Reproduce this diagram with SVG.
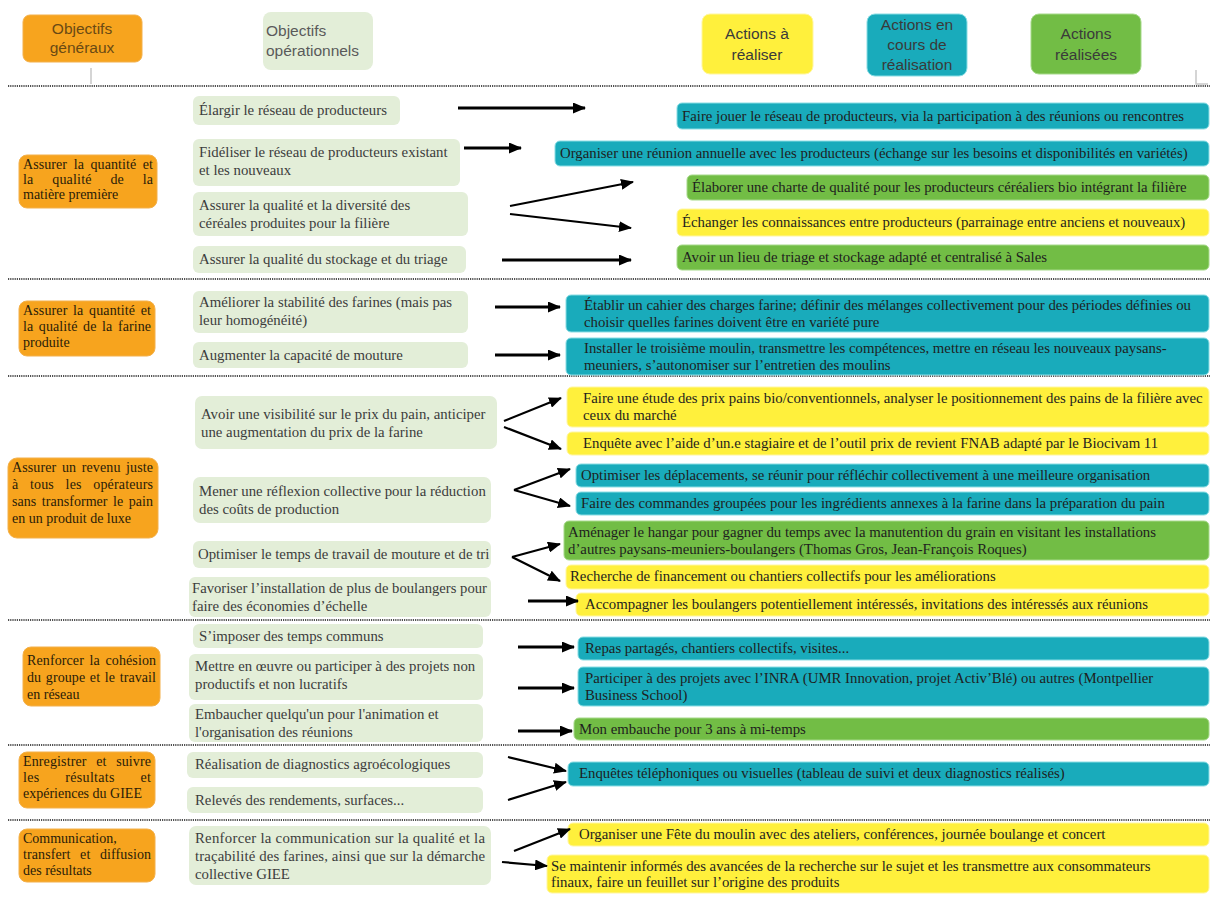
<svg xmlns="http://www.w3.org/2000/svg" width="1212" height="897" viewBox="0 0 1212 897">
<style>
.bg{fill:#ffffff}
.sep{stroke:#505050;stroke-width:1.8;stroke-dasharray:1.2 1;fill:none}
.tick{stroke:#c8c8c8;stroke-width:1.5;fill:none}
.og{fill:#f7a41e;stroke:#f3b04a;stroke-width:1}
.op{fill:#e3eed8}
.ay{fill:#fff03c;stroke:#fff6a0;stroke-width:1}
.at{fill:#19abbb;stroke:#8adde4;stroke-width:1}
.ag{fill:#72bd45;stroke:#a6d98a;stroke-width:1}
.h{font-family:"Liberation Sans",Arial,sans-serif;font-size:15.5px;fill:#3a3a3a}
.ho{fill:#6a4a14}
.hp{fill:#5a5a5a}
.b{font-family:"Liberation Serif","Times New Roman",serif;font-size:14.8px;fill:#1e1e1e}
.p{fill:#3c3c3c}
.o{font-family:"Liberation Serif","Times New Roman",serif;font-size:14px;fill:#2a1c08}
.arr{stroke:#000;stroke-width:3;fill:none;marker-end:url(#ah)}
.ard{stroke:#000;stroke-width:2.2;fill:none;marker-end:url(#ah)}
</style>
<defs>
<marker id="ah" markerUnits="userSpaceOnUse" markerWidth="13" markerHeight="11" refX="12" refY="5.5" orient="auto">
<path d="M0,0 L13,5.5 L0,11 z" fill="#000"/>
</marker>
</defs>
<rect class="bg" x="0" y="0" width="1212" height="897"/>

<g id="header">
<g id="h-og"><rect class="og" x="23" y="15" width="119" height="47" rx="7"/>
<text class="h ho" x="82" y="34" text-anchor="middle">Objectifs</text>
<text class="h ho" x="82" y="53" text-anchor="middle">généraux</text></g>
<g id="h-op"><rect class="op" x="263" y="12" width="110" height="58" rx="8"/>
<text class="h hp" x="266" y="36">Objectifs</text>
<text class="h hp" x="266" y="56">opérationnels</text></g>
<g id="h-ay"><rect class="ay" x="702" y="14" width="111" height="60" rx="8"/>
<text class="h" x="757" y="39" text-anchor="middle">Actions à</text>
<text class="h" x="757" y="60" text-anchor="middle">réaliser</text></g>
<g id="h-at"><rect class="at" x="867" y="14" width="100" height="62" rx="8"/>
<text class="h" x="917" y="30" text-anchor="middle">Actions en</text>
<text class="h" x="917" y="50" text-anchor="middle">cours de</text>
<text class="h" x="917" y="70" text-anchor="middle">réalisation</text></g>
<g id="h-ag"><rect class="ag" x="1031" y="14" width="110" height="60" rx="8"/>
<text class="h" x="1086" y="39" text-anchor="middle">Actions</text>
<text class="h" x="1086" y="60" text-anchor="middle">réalisées</text></g>
<path class="tick" d="M91,68 V84 M1196,70 V84 H1208"/>
</g>

<g id="separators">
<line class="sep" x1="8" y1="86" x2="1210" y2="86"/>
<line class="sep" x1="8" y1="279" x2="1210" y2="279"/>
<line class="sep" x1="8" y1="376" x2="1210" y2="376"/>
<line class="sep" x1="8" y1="620" x2="1210" y2="620"/>
<line class="sep" x1="8" y1="745" x2="1210" y2="745"/>
<line class="sep" x1="8" y1="820" x2="1210" y2="820"/>
</g>

<!-- Objectifs généraux -->
<g id="og1"><rect class="og" x="19" y="155" width="138" height="53" rx="8"/>
<text class="o" x="23" y="169" textLength="130" lengthAdjust="spacing" word-spacing="3">Assurer la quantité et</text>
<text class="o" x="23" y="184" textLength="130" lengthAdjust="spacing" word-spacing="15">la qualité de la</text>
<text class="o" x="23" y="199">matière première</text></g>
<g id="og2"><rect class="og" x="19" y="301" width="136" height="55" rx="8"/>
<text class="o" x="23" y="315" textLength="128" lengthAdjust="spacing" word-spacing="2">Assurer la quantité et</text>
<text class="o" x="23" y="331" textLength="128" lengthAdjust="spacing" word-spacing="2">la qualité de la farine</text>
<text class="o" x="23" y="347">produite</text></g>
<g id="og3"><rect class="og" x="8" y="458" width="150" height="80" rx="9"/>
<text class="o" x="12" y="472" textLength="141" lengthAdjust="spacing" word-spacing="2">Assurer un revenu juste</text>
<text class="o" x="12" y="489" textLength="141" lengthAdjust="spacing" word-spacing="8">à tous les opérateurs</text>
<text class="o" x="12" y="506" textLength="141" lengthAdjust="spacing" word-spacing="2">sans transformer le pain</text>
<text class="o" x="12" y="523">en un produit de luxe</text></g>
<g id="og4"><rect class="og" x="23" y="647" width="137" height="59" rx="8"/>
<text class="o" x="27" y="665" textLength="129" lengthAdjust="spacing" word-spacing="2">Renforcer la cohésion</text>
<text class="o" x="27" y="682" textLength="129" lengthAdjust="spacing" word-spacing="1">du groupe et le travail</text>
<text class="o" x="27" y="699">en réseau</text></g>
<g id="og5"><rect class="og" x="19" y="752" width="136" height="56" rx="8"/>
<text class="o" x="23" y="766" textLength="128" lengthAdjust="spacing" word-spacing="6">Enregistrer et suivre</text>
<text class="o" x="23" y="782" textLength="128" lengthAdjust="spacing" word-spacing="22">les résultats et</text>
<text class="o" x="23" y="798">expériences du GIEE</text></g>
<g id="og6"><rect class="og" x="19" y="829" width="136" height="53" rx="8"/>
<text class="o" x="23" y="843">Communication,</text>
<text class="o" x="23" y="859" textLength="128" lengthAdjust="spacing" word-spacing="6">transfert et diffusion</text>
<text class="o" x="23" y="875">des résultats</text></g>

<!-- Objectifs opérationnels -->
<g id="op1"><rect class="op" x="193" y="96" width="207" height="29" rx="6"/>
<text class="b p" x="199" y="115">Élargir le réseau de producteurs</text></g>
<g id="op2"><rect class="op" x="193" y="139" width="267" height="47" rx="6"/>
<text class="b p" x="199" y="157">Fidéliser le réseau de producteurs existant</text>
<text class="b p" x="199" y="175">et les nouveaux</text></g>
<g id="op3"><rect class="op" x="193" y="192" width="275" height="44" rx="6"/>
<text class="b p" x="199" y="210">Assurer la qualité et la diversité des</text>
<text class="b p" x="199" y="228">céréales produites pour la filière</text></g>
<g id="op4"><rect class="op" x="193" y="246" width="273" height="27" rx="6"/>
<text class="b p" x="199" y="264">Assurer la qualité du stockage et du triage</text></g>
<g id="op5"><rect class="op" x="193" y="291" width="275" height="42" rx="6"/>
<text class="b p" x="199" y="307">Améliorer la stabilité des farines (mais pas</text>
<text class="b p" x="199" y="325">leur homogénéité)</text></g>
<g id="op6"><rect class="op" x="193" y="342" width="275" height="26" rx="6"/>
<text class="b p" x="199" y="360">Augmenter la capacité de mouture</text></g>
<g id="op7"><rect class="op" x="195" y="396" width="302" height="53" rx="7"/>
<text class="b p" x="201" y="419">Avoir une visibilité sur le prix du pain, anticiper</text>
<text class="b p" x="201" y="437">une augmentation du prix de la farine</text></g>
<g id="op8"><rect class="op" x="193" y="477" width="298" height="46" rx="7"/>
<text class="b p" x="199" y="496">Mener une réflexion collective pour la réduction</text>
<text class="b p" x="199" y="514">des coûts de production</text></g>
<g id="op9"><rect class="op" x="193" y="541" width="298" height="27" rx="6"/>
<text class="b p" x="198" y="559">Optimiser le temps de travail de mouture et de tri</text></g>
<g id="op10"><rect class="op" x="189" y="577" width="302" height="40" rx="6"/>
<text class="b p" x="192" y="593" textLength="295" lengthAdjust="spacingAndGlyphs">Favoriser l’installation de plus de boulangers pour</text>
<text class="b p" x="192" y="611">faire des économies d’échelle</text></g>
<g id="op11"><rect class="op" x="193" y="624" width="290" height="24" rx="6"/>
<text class="b p" x="199" y="641">S’imposer des temps communs</text></g>
<g id="op12"><rect class="op" x="189" y="654" width="294" height="46" rx="6"/>
<text class="b p" x="195" y="671">Mettre en œuvre ou participer à des projets non</text>
<text class="b p" x="195" y="689">productifs et non lucratifs</text></g>
<g id="op13"><rect class="op" x="189" y="704" width="294" height="38" rx="6"/>
<text class="b p" x="195" y="719">Embaucher quelqu'un pour l'animation et</text>
<text class="b p" x="195" y="737">l'organisation des réunions</text></g>
<g id="op14"><rect class="op" x="187" y="752" width="296" height="26" rx="6"/>
<text class="b p" x="195" y="769">Réalisation de diagnostics agroécologiques</text></g>
<g id="op15"><rect class="op" x="187" y="787" width="296" height="26" rx="6"/>
<text class="b p" x="195" y="805">Relevés des rendements, surfaces...</text></g>
<g id="op16"><rect class="op" x="189" y="826" width="302" height="59" rx="7"/>
<text class="b p" x="195" y="843" textLength="290" lengthAdjust="spacing">Renforcer la communication sur la qualité et la</text>
<text class="b p" x="195" y="861" textLength="290" lengthAdjust="spacing">traçabilité des farines, ainsi que sur la démarche</text>
<text class="b p" x="195" y="879">collective GIEE</text></g>

<!-- Actions -->
<g id="a1"><rect class="at" x="677" y="103" width="532" height="26" rx="5"/>
<text class="b" x="682" y="121">Faire jouer le réseau de producteurs, via la participation à des réunions ou rencontres</text></g>
<g id="a2"><rect class="at" x="555" y="141" width="654" height="25" rx="5"/>
<text class="b" x="560" y="158">Organiser une réunion annuelle avec les producteurs (échange sur les besoins et disponibilités en variétés)</text></g>
<g id="a3"><rect class="ag" x="687" y="175" width="522" height="25" rx="5"/>
<text class="b" x="692" y="192">Élaborer une charte de qualité pour les producteurs céréaliers bio intégrant la filière</text></g>
<g id="a4"><rect class="ay" x="677" y="209" width="532" height="27" rx="5"/>
<text class="b" x="682" y="227">Échanger les connaissances entre producteurs (parrainage entre anciens et nouveaux)</text></g>
<g id="a5"><rect class="ag" x="677" y="245" width="532" height="25" rx="5"/>
<text class="b" x="682" y="262">Avoir un lieu de triage et stockage adapté et centralisé à Sales</text></g>
<g id="a6"><rect class="at" x="566" y="295" width="643" height="37" rx="5"/>
<text class="b" x="584" y="310">Établir un cahier des charges farine; définir des mélanges collectivement pour des périodes définies ou</text>
<text class="b" x="584" y="327">choisir quelles farines doivent être en variété pure</text></g>
<g id="a7"><rect class="at" x="566" y="338" width="643" height="37" rx="5"/>
<text class="b" x="584" y="353">Installer le troisième moulin, transmettre les compétences, mettre en réseau les nouveaux paysans-</text>
<text class="b" x="584" y="370">meuniers, s’autonomiser sur l’entretien des moulins</text></g>
<g id="a8"><rect class="ay" x="567" y="387" width="642" height="40" rx="5"/>
<text class="b" x="583" y="403">Faire une étude des prix pains bio/conventionnels, analyser le positionnement des pains de la filière avec</text>
<text class="b" x="583" y="420">ceux du marché</text></g>
<g id="a9"><rect class="ay" x="567" y="432" width="642" height="23" rx="5"/>
<text class="b" x="583" y="448">Enquête avec l’aide d’un.e stagiaire et de l’outil prix de revient FNAB adapté par le Biocivam 11</text></g>
<g id="a10"><rect class="at" x="576" y="464" width="633" height="23" rx="5"/>
<text class="b" x="581" y="480">Optimiser les déplacements, se réunir pour réfléchir collectivement à une meilleure organisation</text></g>
<g id="a11"><rect class="at" x="576" y="492" width="633" height="23" rx="5"/>
<text class="b" x="581" y="508">Faire des commandes groupées pour les ingrédients annexes à la farine dans la préparation du pain</text></g>
<g id="a12"><rect class="ag" x="564" y="521" width="645" height="39" rx="5"/>
<text class="b" x="568" y="537">Aménager le hangar pour gagner du temps avec la manutention du grain en visitant les installations</text>
<text class="b" x="568" y="554">d’autres paysans-meuniers-boulangers (Thomas Gros, Jean-François Roques)</text></g>
<g id="a13"><rect class="ay" x="566" y="565" width="643" height="24" rx="5"/>
<text class="b" x="570" y="581">Recherche de financement ou chantiers collectifs pour les améliorations</text></g>
<g id="a14"><rect class="ay" x="576" y="593" width="633" height="23" rx="5"/>
<text class="b" x="585" y="609">Accompagner les boulangers potentiellement intéressés, invitations des intéressés aux réunions</text></g>
<g id="a15"><rect class="at" x="578" y="637" width="631" height="23" rx="5"/>
<text class="b" x="585" y="653">Repas partagés, chantiers collectifs, visites...</text></g>
<g id="a16"><rect class="at" x="578" y="667" width="631" height="39" rx="5"/>
<text class="b" x="585" y="683">Participer à des projets avec l’INRA (UMR Innovation, projet Activ’Blé) ou autres (Montpellier</text>
<text class="b" x="585" y="700">Business School)</text></g>
<g id="a17"><rect class="ag" x="574" y="718" width="635" height="22" rx="5"/>
<text class="b" x="579" y="734">Mon embauche pour 3 ans à mi-temps</text></g>
<g id="a18"><rect class="at" x="568" y="762" width="641" height="24" rx="5"/>
<text class="b" x="579" y="778">Enquêtes téléphoniques ou visuelles (tableau de suivi et deux diagnostics réalisés)</text></g>
<g id="a19"><rect class="ay" x="568" y="823" width="641" height="23" rx="5"/>
<text class="b" x="579" y="839">Organiser une Fête du moulin avec des ateliers, conférences, journée boulange et concert</text></g>
<g id="a20"><rect class="ay" x="547" y="855" width="662" height="38" rx="5"/>
<text class="b" x="551" y="871">Se maintenir informés des avancées de la recherche sur le sujet et les transmettre aux consommateurs</text>
<text class="b" x="551" y="887">finaux, faire un feuillet sur l’origine des produits</text></g>

<g id="connectors">
<line class="arr" x1="458" y1="108" x2="585" y2="108"/>
<line class="arr" x1="464" y1="148" x2="521" y2="148"/>
<line class="ard" x1="510" y1="206" x2="633" y2="182"/>
<line class="ard" x1="510" y1="214" x2="631" y2="228"/>
<line class="arr" x1="502" y1="260" x2="631" y2="260"/>
<line class="arr" x1="495" y1="307" x2="560" y2="307"/>
<line class="arr" x1="495" y1="355" x2="560" y2="355"/>
<line class="ard" x1="504" y1="421" x2="561" y2="398"/>
<line class="ard" x1="504" y1="427" x2="561" y2="449"/>
<line class="ard" x1="514" y1="490" x2="570" y2="469"/>
<line class="ard" x1="514" y1="490" x2="570" y2="506"/>
<line class="ard" x1="512" y1="557" x2="560" y2="544"/>
<line class="ard" x1="512" y1="557" x2="560" y2="581"/>
<line class="arr" x1="528" y1="601" x2="578" y2="601"/>
<line class="arr" x1="518" y1="647" x2="574" y2="647"/>
<line class="arr" x1="518" y1="688" x2="574" y2="688"/>
<line class="arr" x1="518" y1="731" x2="572" y2="731"/>
<line class="ard" x1="508" y1="757" x2="566" y2="771"/>
<line class="ard" x1="508" y1="800" x2="566" y2="782"/>
<line class="ard" x1="514" y1="851" x2="570" y2="829"/>
<line class="ard" x1="502" y1="862" x2="547" y2="866"/>
</g>
</svg>
